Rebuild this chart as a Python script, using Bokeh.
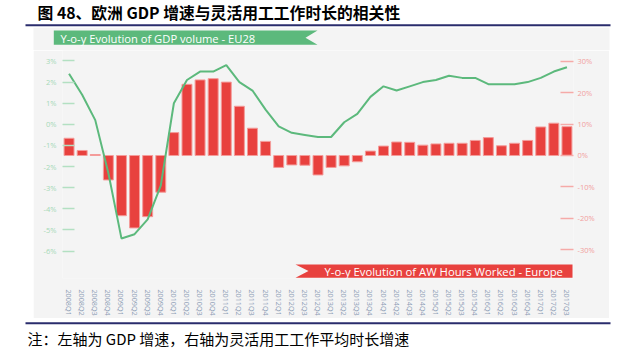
from bokeh.plotting import figure
from bokeh.models import (Range1d, LinearAxis, FixedTicker, PrintfTickFormatter,
                          PolyAnnotation, Label, Spacer)
from bokeh.layouts import column, row
from bokeh.core.properties import value
from bokeh.embed import file_html
from bokeh.resources import INLINE

quarters = ["2008Q1", "2008Q2", "2008Q3", "2008Q4", "2009Q1", "2009Q2", "2009Q3", "2009Q4",
            "2010Q1", "2010Q2", "2010Q3", "2010Q4", "2011Q1", "2011Q2", "2011Q3", "2011Q4",
            "2012Q1", "2012Q2", "2012Q3", "2012Q4", "2013Q1", "2013Q2", "2013Q3", "2013Q4",
            "2014Q1", "2014Q2", "2014Q3", "2014Q4", "2015Q1", "2015Q2", "2015Q3", "2015Q4",
            "2016Q1", "2016Q2", "2016Q3", "2016Q4", "2017Q1", "2017Q2", "2017Q3"]

# GDP volume y-o-y (%), left axis
gdp = [2.4, 1.4, 0.2, -2.3, -5.4, -5.2, -4.5, -2.9, 1.0, 2.1, 2.5, 2.5, 2.8, 2.0, 1.6, 0.7,
       -0.1, -0.4, -0.5, -0.6, -0.6, 0.1, 0.5, 1.3, 1.8, 1.6, 1.8, 2.0, 2.1, 2.3, 2.2, 2.2,
       1.9, 1.9, 1.9, 2.0, 2.2, 2.5, 2.7]

# AW hours worked y-o-y (%), right axis
aw = [5.5, 1.6, 0.3, -7.8, -19.2, -23.1, -19.5, -11.7, 7.3, 22.7, 24.1, 24.5, 23.4, 15.7, 8.7, 4.5,
      -3.8, -3.0, -3.1, -6.2, -3.8, -3.3, -2.0, 1.4, 3.0, 4.3, 4.2, 3.3, 3.7, 3.9, 3.9, 4.8,
      5.7, 3.1, 3.9, 4.8, 9.1, 10.3, 9.2]

left_ticks = [3, 2, 1, 0, -1, -2, -3, -4, -5, -6]
right_ticks = [30, 20, 10, 0, -10, -20, -30]

title_text = "图 48、欧洲 GDP 增速与灵活用工工作时长的相关性"
note_text = "注：左轴为 GDP 增速，右轴为灵活用工工作平均时长增速"
green_banner = "Y-o-y Evolution of GDP volume - EU28"
red_banner = "Y-o-y Evolution of AW Hours Worked - Europe"

idx = list(range(len(quarters)))

GREEN = "#5cb97c"
RED = "#e8413e"
PANEL = "#f4f4f4"
NAVY = "#2a2c6c"
W = 628

# ---------------- top strip (page y 0..50) ----------------
top = figure(width=W, height=50, output_backend="svg", toolbar_location=None,
             x_range=Range1d(0, W), y_range=Range1d(50, 0),
             x_axis_location=None, y_axis_location=None, min_border=0)
top.outline_line_color = None
top.grid.visible = False
top.background_fill_color = "white"
top.border_fill_color = "white"
top.quad(left=33, right=609, top=27.3, bottom=50, fill_color=PANEL, line_color=None)
top.quad(left=25, right=610, top=23.8, bottom=25.7, fill_color=NAVY, line_color=None)
top.patch(x=[53.3, 317, 305, 317, 53.3], y=[30, 30, 37.2, 44.3, 44.3],
          fill_color=GREEN, line_color=None)
top.text(x=[60], y=[37.6], text=[green_banner], text_color="white",
         text_font=value("Open Sans"), text_font_size="11.2px", text_baseline="middle")
top.text(x=[37], y=[0.5], text=[title_text], text_color="black",
         text_font=value("Noto Sans CJK SC"), text_font_style="bold",
         text_font_size="15.8px", text_baseline="top")

# ---------------- main chart (page x 33..609, y 50..318) ----------------
p = figure(width=576, height=268, output_backend="svg", toolbar_location=None,
           x_range=Range1d(-0.5, 38.5), y_range=Range1d(-7.297, 3.496),
           min_border_left=29, min_border_right=36, min_border_top=0, min_border_bottom=35)
p.extra_y_ranges = {"aw": Range1d(-39.22, 33.48)}
p.background_fill_color = PANEL
p.border_fill_color = PANEL
p.outline_line_color = None
p.xgrid.visible = False
p.ygrid.visible = False

p.vbar(x=idx, top=aw, bottom=0, width=0.76, y_range_name="aw",
       fill_color=RED, line_color="#f49c9a", line_width=1)
p.line(x=idx, y=gdp, line_color=GREEN, line_width=2)

la = p.yaxis[0]
la.ticker = FixedTicker(ticks=left_ticks)
la.formatter = PrintfTickFormatter(format="%d%%")
la.axis_line_color = None
la.major_tick_in = 12
la.major_tick_out = 0
la.minor_tick_line_color = None
la.major_tick_line_color = "#b3e0c2"
la.major_tick_line_width = 1.5
la.major_label_text_color = "#a6d9b7"
la.major_label_text_font = "Open Sans"
la.major_label_text_font_size = "7.5px"
la.major_label_standoff = 6

ra = LinearAxis(y_range_name="aw", ticker=FixedTicker(ticks=right_ticks),
                formatter=PrintfTickFormatter(format="%d%%"))
ra.axis_line_color = None
ra.major_tick_in = 13
ra.major_tick_out = 0
ra.minor_tick_line_color = None
ra.major_tick_line_color = "#f5aaa8"
ra.major_tick_line_width = 1.5
ra.major_label_text_color = "#f2a09e"
ra.major_label_text_font = "Open Sans"
ra.major_label_text_font_size = "7.5px"
ra.major_label_standoff = 4
p.add_layout(ra, "right")

xa = p.xaxis[0]
xa.ticker = FixedTicker(ticks=idx)
xa.major_label_overrides = {i: q for i, q in zip(idx, quarters)}
xa.major_label_orientation = "vertical"
xa.axis_line_color = None
xa.major_tick_line_color = None
xa.minor_tick_line_color = None
xa.major_label_text_color = "#8c9cb4"
xa.major_label_text_font = "Open Sans"
xa.major_label_text_font_size = "7.2px"
xa.major_label_standoff = 5

# red banner (inside the frame; canvas units of this figure: page - (33, 50))
p.add_layout(PolyAnnotation(xs=[262, 539, 539, 262, 275], ys=[214, 214, 227.3, 227.3, 220.6],
                            xs_units="canvas", ys_units="canvas",
                            fill_color=RED, fill_alpha=1, line_color=None, level="annotation"))
p.add_layout(Label(x=291, y=221.2, x_units="canvas", y_units="canvas", text=red_banner,
                   text_color="white", text_font="Open Sans", text_font_size="11.3px",
                   text_baseline="middle"))

main_row = row(Spacer(width=33, height=268), p, Spacer(width=19, height=268))

# ---------------- bottom strip (page y 318..355) ----------------
bot = figure(width=W, height=37, output_backend="svg", toolbar_location=None,
             x_range=Range1d(0, W), y_range=Range1d(355, 318),
             x_axis_location=None, y_axis_location=None, min_border=0)
bot.outline_line_color = None
bot.grid.visible = False
bot.background_fill_color = "white"
bot.border_fill_color = "white"
bot.quad(left=25, right=610, top=321.8, bottom=323.7, fill_color=NAVY, line_color=None)
bot.text(x=[27], y=[327], text=[note_text], text_color="black",
         text_font=value("Noto Sans CJK SC"), text_font_size="15px", text_baseline="top")

layout = column(top, main_row, bot)
open("out.html", "w").write(file_html(layout, INLINE))
